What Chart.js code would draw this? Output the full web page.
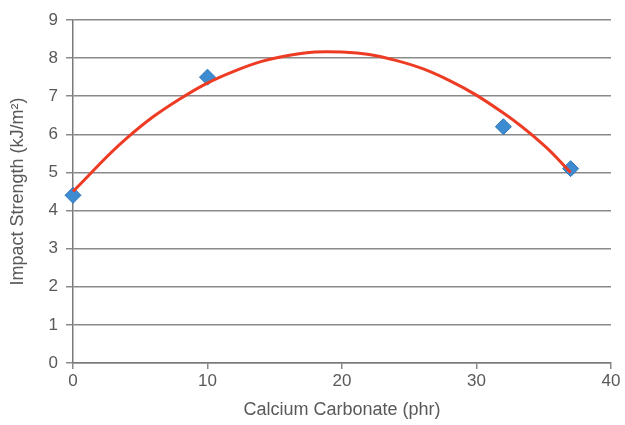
<!DOCTYPE html>
<html>
<head>
<meta charset="utf-8">
<script src="https://cdn.jsdelivr.net/npm/chart.js@4/dist/chart.umd.min.js"></script>
<style>
  html, body { margin: 0; padding: 0; background: #fff; }
  #wrap { width: 625px; height: 425px; }
</style>
</head>
<body>
<div id="wrap"><canvas id="chart-impact"></canvas></div>
<script>
// measured points (diamonds)
const caco3 = [0, 10, 32, 37];
const impact = [4.4, 7.5, 6.2, 5.1];

// polynomial trendline
const trendX = [0, 4, 8, 12, 16, 20, 24, 28, 32, 35, 37];
const trendY = [4.5, 5.9, 6.94, 7.66, 8.07, 8.16, 7.94, 7.41, 6.56, 5.72, 5.0];

const xTicks = [0, 10, 20, 30, 40];
const yTicks = [0, 1, 2, 3, 4, 5, 6, 7, 8, 9];

const txt = '#595959';
const tickFont = { family: 'Liberation Sans, Arial, sans-serif', size: 17 };
const titleFont = { family: 'Liberation Sans, Arial, sans-serif', size: 18 };

new Chart(document.getElementById('chart-impact'), {
    type: 'scatter',
    data: {
        datasets: [{
            label: 'Trend',
            type: 'line',
            data: trendX.map((x, i) => ({ x: x, y: trendY[i] })),
            borderColor: '#ee3b24',
            borderWidth: 3,
            pointRadius: 0,
            tension: 0.4,
            fill: false,
            clip: false,
            order: 1
        }, {
            label: 'Impact Strength',
            data: caco3.map((x, i) => ({ x: x, y: impact[i] })),
            pointStyle: 'rectRot',
            pointRadius: 8,
            backgroundColor: '#3d8bd1',
            borderColor: '#2f76b8',
            borderWidth: 1,
            clip: false,
            order: 2
        }]
    },
    options: {
        responsive: true,
        maintainAspectRatio: false,
        animation: false,
        layout: { padding: { top: 20, right: 14, left: 0, bottom: 0 } },
        plugins: {
            legend: { display: false },
            tooltip: { enabled: false }
        },
        scales: {
            x: {
                type: 'linear',
                min: 0,
                max: 40,
                afterBuildTicks: s => { s.ticks = xTicks.map(v => ({ value: v })); },
                afterFit: s => { s.height = 62; },
                ticks: { color: txt, font: tickFont, padding: 2 },
                grid: { drawOnChartArea: false, drawTicks: true, tickLength: 6, color: '#8a8a8a', lineWidth: 1.5 },
                border: { color: '#7a7a7a', width: 1.5 },
                title: { display: true, text: 'Calcium Carbonate (phr)', color: txt, font: titleFont, padding: { top: 4, bottom: 4 } }
            },
            y: {
                min: 0,
                max: 9,
                afterBuildTicks: s => { s.ticks = yTicks.map(v => ({ value: v })); },
                afterFit: s => { s.width = 73; },
                ticks: { color: txt, font: tickFont, padding: 8 },
                grid: { color: '#8a8a8a', lineWidth: 1.5, tickLength: 7 },
                border: { color: '#7a7a7a', width: 1.5 },
                title: { display: true, text: 'Impact Strength (kJ/m²)', color: txt, font: titleFont, padding: { top: 7, bottom: 4 } }
            }
        }
    }
});
</script>
</body>
</html>
